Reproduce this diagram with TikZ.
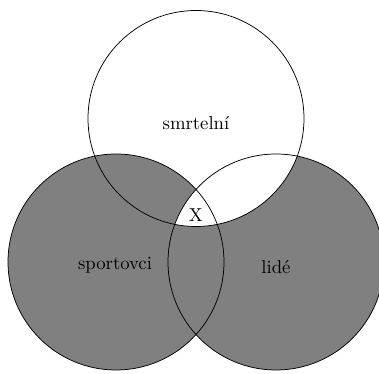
\documentclass[tikz,border=0pt]{standalone}
\usepackage{tikz}

\begin{document}
\begin{tikzpicture}[x=0.535pt, y=-0.535pt, set/.style={draw, circle, minimum size=216*0.535pt, inner sep=0pt}]
  \useasboundingbox (0,0) rectangle (379,374);
  \coordinate(mC) at (196,118.5);
  \coordinate(sC) at (116,262);
  \coordinate(lC) at (276,262);
  \fill[gray] (sC) circle (108) (lC) circle (108);
  \begin{scope}
    \clip (mC) circle (108);
    \fill[white] (lC) circle (108);
  \end{scope}
  \node[set](smrt) at (mC){};
  \node[set](sport) at (sC){};
  \node[set](lide) at (lC){};
  \node(smrtlabel) at (196,123){smrtelní};
  \node(sportlabel) at (115,265){sportovci};
  \node(lidelabel) at (276,267){lidé};
  \node(x) at (196,215){X};
\end{tikzpicture}
\end{document}
